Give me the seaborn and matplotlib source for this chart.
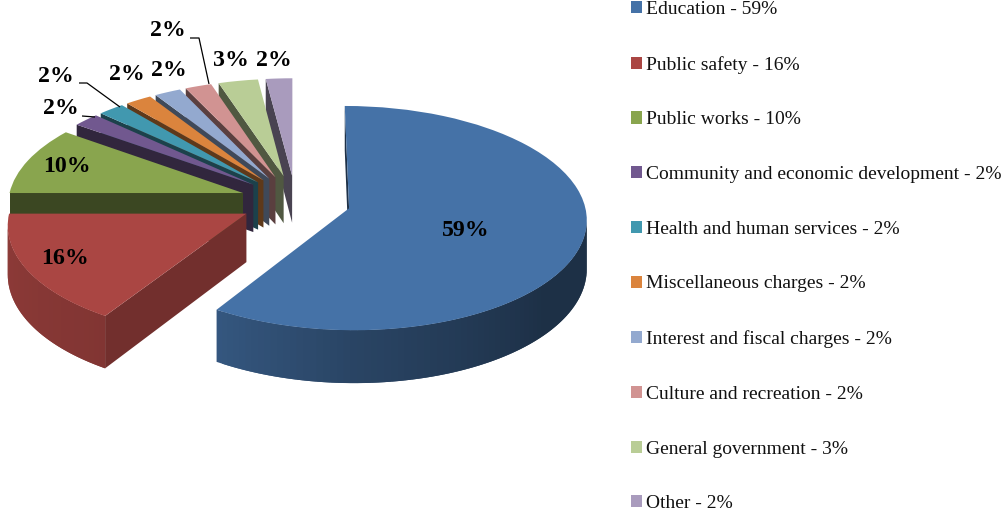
import numpy as np
import matplotlib
matplotlib.use("Agg")
import matplotlib.pyplot as plt
from matplotlib.collections import PolyCollection
from matplotlib.transforms import Transform
import seaborn as sns

categories = ["Education", "Public safety", "Public works",
              "Community and economic development", "Health and human services",
              "Miscellaneous charges", "Interest and fiscal charges",
              "Culture and recreation", "General government", "Other"]
shares = [59, 16, 10, 2, 2, 2, 2, 2, 3, 2]
slice_colors = ["#4572A7", "#AA4643", "#89A54E", "#71588F", "#4198AF",
                "#DB843D", "#93A9CF", "#D19392", "#B9CD96", "#A99BBD"]

# Value label anchors and leader lines, in pixels from the top-left corner
label_centres = [(466, 230), (65, 258), (67, 166), (61, 109), (56, 76),
                 (127, 75), (169, 70), (168, 30), (231, 60), (274, 60)]
leaders = [[(82, 116), (95, 117)],
           [(79, 83), (87, 83), (120, 107)],
           [(190, 38), (199, 38), (209, 84)]]

EXPLODE = 0.236
CX, CY = 295.5, 201.0
SCALE_X, SCALE_Y = 235.0, 110.0
PERSPECTIVE = 0.087
DEPTH = 48.0

W, H = 1006, 515


class TiltedPlane(Transform):
    """Projects the flat pie plane onto the page as a tilted disc."""
    input_dims = output_dims = 2
    is_separable = False
    has_inverse = False

    def __init__(self, drop=0.0):
        super().__init__()
        self.drop = drop

    def transform_non_affine(self, values):
        values = np.asarray(values, dtype=float)
        u, v = values[..., 0], values[..., 1]
        w = 1.0 + PERSPECTIVE * v
        return np.stack([CX + SCALE_X * u / w,
                         CY + (self.drop - SCALE_Y * v) / w], axis=-1)


def darken(color, factor):
    return tuple(np.array(matplotlib.colors.to_rgb(color)) * factor)


def rim_shade(theta):
    # Outer rim lighting, brighter on the left of the near side
    wrapped = (theta + 180) % 360 - 180
    return np.interp(wrapped, [-180, -122, -90, -40, 0], [0.84, 0.76, 0.6, 0.42, 0.42])


sns.set_theme(style="white")
plt.rcParams["font.family"] = ["Liberation Serif", "DejaVu Serif"]
palette = sns.color_palette(slice_colors)

fig = plt.figure(figsize=(W / 100, H / 100), dpi=100, facecolor="white")
ax = fig.add_axes([0, 0, 1, 1])

wedges, _ = ax.pie(shares, colors=palette, explode=[EXPLODE] * len(shares),
                   startangle=90, counterclock=False,
                   wedgeprops={"linewidth": 0})
ax.set_aspect("auto")
ax.set_xlim(0, W)
ax.set_ylim(H, 0)
ax.axis("off")

top = TiltedPlane(0.0)
bottom = TiltedPlane(DEPTH)


def centre_v(wedge):
    mid = np.radians(0.5 * (wedge.theta1 + wedge.theta2))
    return wedge.center[1] + 0.5 * wedge.r * np.sin(mid)


# Far slices are painted first so nearer ones overlap them
order = sorted(range(len(wedges)), key=lambda i: -centre_v(wedges[i]))
for rank, i in enumerate(order):
    wedge = wedges[i]
    base = palette[i]
    c = np.array(wedge.center)
    thetas = np.linspace(wedge.theta1, wedge.theta2,
                         max(2, int((wedge.theta2 - wedge.theta1) / 1.5) + 1))
    rim = c + wedge.r * np.column_stack([np.cos(np.radians(thetas)),
                                         np.sin(np.radians(thetas))])
    # Counter-clockwise outline: apex, along the rim, back to the apex
    outline = np.vstack([c, rim, c])
    t_pts, b_pts = top.transform_non_affine(outline), bottom.transform_non_affine(outline)
    last = len(outline) - 2
    polys, face = [], []
    for k in range(len(outline) - 1):
        if t_pts[k + 1, 0] <= t_pts[k, 0]:
            continue  # this face looks away from the viewer
        # Rim strips run under their neighbour so no seams show between them
        end = k + 2 if 0 < k < last - 1 else k + 1
        polys.append([t_pts[k], t_pts[end], b_pts[end], b_pts[k]])
        if k == 0 or k == last:
            normal_u = np.sin(np.radians(thetas[0])) if k == 0 else -np.sin(np.radians(thetas[-1]))
            face.append(darken(base, 0.67 if normal_u > 0.3 else 0.43))
        else:
            face.append(darken(base, rim_shade(0.5 * (thetas[k - 1] + thetas[k]))))
    side = PolyCollection(polys, facecolors=face, edgecolors="none", linewidths=0,
                          transform=ax.transData, zorder=2 + 2 * rank, clip_on=False)
    ax.add_collection(side)
    wedge.set_transform(top + ax.transData)
    wedge.set_zorder(3 + 2 * rank)
    wedge.set_clip_on(False)

# Value labels
for value, (x, y) in zip(shares, label_centres):
    ax.text(x, y, f"{value}%", ha="center", va="center", fontsize=17.2,
            fontweight="bold", color="black", zorder=60)

for path in leaders:
    xs, ys = zip(*path)
    ax.plot(xs, ys, color="black", lw=0.9, zorder=60, solid_capstyle="butt")

legend_labels = [f"{name} - {value}%" for name, value in zip(categories, shares)]
legend = ax.legend(wedges, legend_labels, loc="upper left",
                   bbox_to_anchor=(631 / W, 1 - 1.0 / H), bbox_transform=fig.transFigure,
                   frameon=False, fontsize=14.0, borderpad=0, borderaxespad=0,
                   handlelength=0.58, handleheight=0.58, handletextpad=0.2,
                   labelspacing=1.94)
for text in legend.get_texts():
    text.set_color("#111111")

fig.savefig("out.png", dpi=100, facecolor="white")
